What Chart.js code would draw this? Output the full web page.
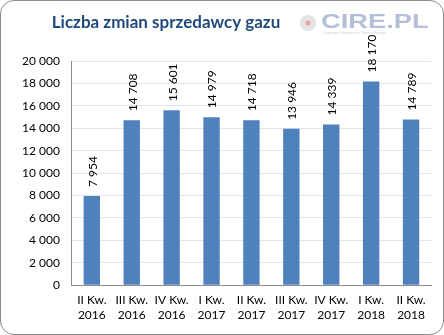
<!DOCTYPE html>
<html>
<head>
<meta charset="utf-8">
<script src="https://cdn.jsdelivr.net/npm/chart.js@4.4.0/dist/chart.umd.min.js"></script>
<style>
  html, body { margin: 0; padding: 0; background: #fff; }
  #wrap { position: relative; width: 444px; height: 335px; }
  #frame { position: absolute; left: 0; top: 0; width: 442px; height: 333px; border: 1px solid #8c8c8c; border-radius: 14px; pointer-events: none; }
</style>
</head>
<body>
<div id="wrap">
  <canvas id="chart" width="444" height="335"></canvas>
  <div id="frame"></div>
</div>
<script>
// data
const quarters = ["II Kw.", "III Kw.", "IV Kw.", "I Kw.", "II Kw.", "III Kw.", "IV Kw.", "I Kw.", "II Kw."];
const years = ["2016", "2016", "2016", "2017", "2017", "2017", "2017", "2018", "2018"];
const switches = [7954, 14708, 15601, 14979, 14718, 13946, 14339, 18170, 14789];
const yTicks = [0, 2000, 4000, 6000, 8000, 10000, 12000, 14000, 16000, 18000, 20000];

const FONT = "Lato, 'Open Sans', sans-serif";

function fmt(v) {
  return String(v).replace(/\B(?=(\d{3})+(?!\d))/g, " ");
}

// title + logo + vertical value labels
const decor = {
  id: "decor",
  afterDatasetsDraw(chart) {
    const ctx = chart.ctx;
    ctx.save();
    ctx.fillStyle = "#1f497d";
    ctx.font = "bold 17px " + FONT;
    ctx.textAlign = "center";
    ctx.textBaseline = "middle";
    ctx.fillText("Liczba zmian sprzedawcy gazu", 166, 23);

    // CIRE.PL logo
    ctx.fillStyle = "#e4e4e4";
    ctx.beginPath(); ctx.arc(308, 23, 8, 0, Math.PI * 2); ctx.fill();
    ctx.fillStyle = "#f2a0a0";
    ctx.beginPath(); ctx.arc(308, 23, 2.5, 0, Math.PI * 2); ctx.fill();
    ctx.fillStyle = "#b4bed6";
    ctx.save();
    ctx.translate(321, 22);
    ctx.scale(1.3, 1);
    ctx.font = "bold 21px 'Liberation Sans', sans-serif";
    ctx.textAlign = "left";
    ctx.fillText("CIRE.PL", 0, 0);
    ctx.restore();
    ctx.font = "4px 'Liberation Sans', sans-serif";
    ctx.fillStyle = "#c9cfdc";
    ctx.textAlign = "left";
    ctx.fillText("Centrum Informacji o Rynku Energii", 323, 33);

    // value labels
    const meta = chart.getDatasetMeta(0);
    ctx.fillStyle = "#000";
    ctx.font = "12px " + FONT;
    ctx.textAlign = "left";
    ctx.textBaseline = "middle";
    meta.data.forEach((bar, i) => {
      ctx.save();
      ctx.translate(bar.x + 1, bar.y - 9);
      ctx.rotate(-Math.PI / 2);
      ctx.fillText(fmt(switches[i]), 0, 0);
      ctx.restore();
    });
    ctx.restore();
  }
};

new Chart(document.getElementById("chart"), {
  type: "bar",
  data: {
    labels: quarters.map((q, i) => [q, years[i]]),
    datasets: [{
      data: switches,
      backgroundColor: "#4f81bd",
      barPercentage: 0.82,
      categoryPercentage: 0.5
    }]
  },
  options: {
    responsive: false,
    animation: false,
    layout: { padding: { top: 61, left: 10, right: 13, bottom: 5 } },
    plugins: { legend: { display: false }, tooltip: { enabled: false } },
    scales: {
      x: {
        grid: { display: false, drawTicks: false },
        border: { color: "#8c8c8c" },
        ticks: { color: "#000", font: { family: FONT, size: 12 }, padding: 8, maxRotation: 0, autoSkip: false }
      },
      y: {
        min: 0,
        max: 20000,
        afterBuildTicks(axis) { axis.ticks = yTicks.map((v) => ({ value: v })); },
        grid: { color: "#dce4ef", drawTicks: false },
        border: { color: "#8c8c8c" },
        ticks: { color: "#000", font: { family: FONT, size: 12 }, padding: 12, callback: (v) => fmt(v) }
      }
    }
  },
  plugins: [decor]
});
</script>
</body>
</html>
